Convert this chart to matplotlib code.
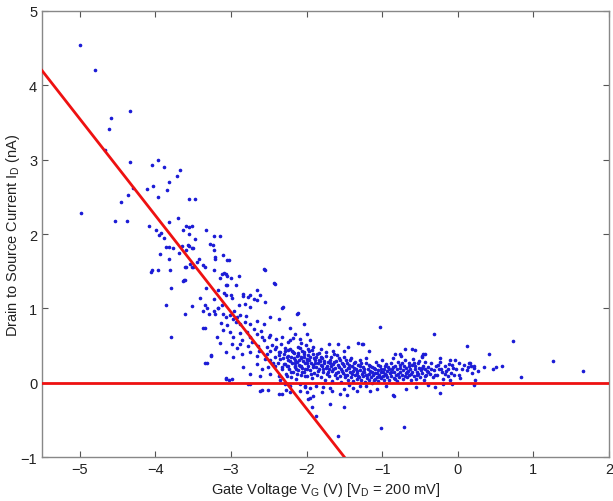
import numpy as np
import matplotlib
matplotlib.use("Agg")
import matplotlib.pyplot as plt

plt.rcParams['font.family'] = ['Liberation Sans', 'DejaVu Sans']

# measured points (gate voltage V, drain current nA), read off the scan
# sparse tail at high negative gate voltage
tail_pts = [
    (-5.00, 4.54), (-4.80, 4.20), (-4.34, 3.65), (-4.59, 3.56), (-4.61, 3.41),
    (-4.67, 3.13), (-4.34, 2.97), (-4.05, 2.93), (-3.97, 3.00), (-3.89, 2.90),
    (-3.68, 2.86), (-3.72, 2.78), (-3.82, 2.70), (-3.85, 2.59), (-4.03, 2.64),
    (-4.11, 2.61), (-3.96, 2.50), (-4.29, 2.62), (-4.36, 2.52), (-4.46, 2.43),
    (-3.55, 2.47), (-3.48, 2.47), (-4.99, 2.28), (-4.53, 2.17), (-4.38, 2.18),
    (-4.09, 2.11), (-3.99, 2.05), (-3.95, 1.99), (-3.92, 2.01), (-3.88, 1.94),
    (-3.82, 2.16), (-3.70, 2.21), (-3.64, 2.06), (-3.60, 2.11), (-3.55, 2.10),
    (-3.51, 2.11), (-3.56, 2.00), (-3.48, 1.93), (-3.86, 1.83), (-3.82, 1.82),
    (-3.77, 1.81), (-3.65, 1.84), (-3.59, 1.79), (-3.55, 1.84), (-3.52, 1.81),
    (-3.94, 1.73), (-3.82, 1.66), (-3.69, 1.75), (-3.60, 1.55), (-3.54, 1.59),
    (-3.50, 1.55), (-4.05, 1.51), (-4.06, 1.49), (-3.97, 1.52), (-3.81, 1.52),
    (-3.79, 1.28), (-3.63, 1.37), (-3.61, 1.38), (-3.86, 1.05), (-3.61, 0.93),
    (-3.80, 0.61),
]

# slope region between -3.5 V and -2.3 V
slope_pts = [
    (-3.33, 2.06), (-3.23, 1.97), (-3.15, 1.97), (-3.28, 1.86), (-3.24, 1.85),
    (-3.57, 1.85), (-3.50, 1.81), (-3.23, 1.79), (-3.21, 1.69), (-3.10, 1.72),
    (-3.21, 1.66), (-3.05, 1.65), (-3.03, 1.65), (-3.42, 1.66), (-3.45, 1.63),
    (-3.61, 1.55), (-3.52, 1.55), (-3.37, 1.58), (-3.34, 1.55), (-3.22, 1.51),
    (-3.12, 1.46), (-3.09, 1.47), (-3.07, 1.46), (-3.05, 1.44), (-3.00, 1.41),
    (-2.90, 1.43), (-3.14, 1.41), (-3.07, 1.32), (-3.05, 1.32), (-3.62, 1.38),
    (-3.33, 1.27), (-3.17, 1.25), (-3.09, 1.20), (-3.00, 1.18), (-2.93, 1.32),
    (-2.84, 1.16), (-2.75, 1.18), (-2.65, 1.25), (-2.55, 1.52), (-2.42, 1.33),
    (-3.41, 1.14), (-3.52, 1.03), (-3.34, 1.05), (-3.23, 1.12), (-3.17, 1.01),
    (-2.81, 1.06), (-2.75, 1.02), (-2.65, 1.11), (-2.55, 1.08), (-2.31, 1.02),
    (-3.32, 1.00), (-3.37, 0.96), (-3.29, 0.93), (-3.23, 0.97), (-3.21, 0.92),
    (-3.17, 1.00), (-3.12, 1.04), (-3.06, 1.18), (-2.99, 1.14), (-2.84, 1.19),
    (-2.77, 1.15), (-2.70, 1.12), (-2.62, 1.18), (-3.10, 0.93), (-3.06, 0.89),
    (-3.01, 0.91), (-2.98, 0.86), (-2.92, 0.89), (-2.88, 0.91), (-2.93, 0.81),
    (-2.88, 0.79), (-2.81, 0.81), (-2.75, 0.79), (-2.66, 0.83), (-2.57, 0.79),
    (-2.48, 0.89), (-2.37, 0.86), (-2.13, 0.93), (-3.34, 0.73), (-3.10, 0.71),
    (-3.01, 0.68), (-2.88, 0.67), (-2.79, 0.68), (-2.75, 0.61), (-2.66, 0.66),
    (-2.59, 0.61), (-2.48, 0.64), (-2.40, 0.59), (-2.33, 0.61), (-2.22, 0.57),
    (-2.09, 0.59), (-3.15, 0.54), (-2.99, 0.52), (-2.88, 0.52), (-2.77, 0.50),
    (-2.64, 0.50), (-2.53, 0.48), (-2.48, 0.43), (-2.42, 0.45), (-2.35, 0.41),
    (-2.29, 0.43), (-2.22, 0.45), (-2.18, 0.41), (-2.11, 0.48), (-2.04, 0.41),
    (-1.98, 0.45), (-2.13, 0.36), (-2.07, 0.34), (-2.00, 0.32), (-2.26, 0.34),
    (-2.35, 0.32), (-2.42, 0.34), (-2.48, 0.30), (-2.55, 0.32), (-2.66, 0.36),
    (-2.75, 0.41), (-2.86, 0.39), (-2.97, 0.34), (-3.06, 0.41), (-3.26, 0.36),
    (-3.32, 0.27), (-2.84, 0.21), (-2.66, 0.25), (-2.59, 0.18), (-2.51, 0.21),
    (-2.42, 0.23), (-2.33, 0.21), (-2.24, 0.23), (-2.15, 0.21), (-2.07, 0.23),
    (-2.00, 0.18), (-2.75, 0.12), (-2.62, 0.09), (-2.48, 0.12), (-2.37, 0.09),
    (-2.26, 0.09), (-2.13, 0.12), (-2.02, 0.09), (-3.06, 0.06), (-2.99, 0.05),
    (-2.75, -0.02), (-2.35, 0.03), (-2.29, -0.02), (-2.22, -0.04), (-2.09, -0.02),
    (-2.02, -0.06), (-2.59, -0.10), (-2.51, -0.10), (-2.33, -0.15), (-2.22, -0.13),
    (-2.09, -0.11), (-3.37, 0.73), (-3.26, 0.37), (-3.34, 0.27), (-3.07, 0.05),
    (-3.02, 0.03), (-2.78, -0.02), (-2.61, -0.11), (-2.32, 1.00), (-2.25, 0.55),
    (-2.18, 0.60), (-2.08, 0.53), (-2.15, 0.66), (-2.22, 0.73), (-2.11, 0.94),
    (-2.03, 0.79), (-1.99, 0.66), (-1.96, 0.57), (-1.91, 0.48), (-1.81, 0.45),
    (-1.71, 0.52), (-1.58, 0.52), (-1.65, 0.43), (-1.51, 0.43), (-1.45, 0.48),
    (-1.32, 0.53), (-1.27, 0.52), (-1.25, 0.52), (-1.18, 0.43), (-2.43, 1.34),
    (-2.56, 1.53), (-3.05, 0.78), (-2.97, 0.62), (-2.92, 0.47), (-2.85, 0.58),
    (-2.80, 0.90), (-2.72, 0.55), (-2.70, 0.72), (-2.63, 0.42), (-2.60, 0.70),
    (-2.56, 0.57), (-2.52, 0.38), (-2.50, 0.62), (-2.46, 0.51), (-2.44, 0.27),
    (-2.40, 0.48), (-2.37, 0.37), (-2.34, 0.52), (-2.30, 0.25), (-2.96, 0.97),
    (-2.90, 1.05), (-3.13, 0.80), (-3.18, 0.62),
]

# dense band just above zero current
band_pts = [
    (-2.30, 0.38), (-2.28, 0.25), (-2.27, 0.12), (-2.25, 0.30), (-2.24, 0.44),
    (-2.23, 0.19), (-2.21, 0.08), (-2.20, 0.35), (-2.19, 0.27), (-2.18, 0.15),
    (-2.17, 0.40), (-2.16, 0.22), (-2.15, 0.31), (-2.14, 0.05), (-2.13, 0.28),
    (-2.12, 0.37), (-2.11, 0.17), (-2.10, 0.24), (-2.09, 0.46), (-2.08, 0.11),
    (-2.07, 0.33), (-2.06, 0.20), (-2.05, 0.29), (-2.04, 0.38), (-2.03, 0.14),
    (-2.02, 0.26), (-2.01, 0.51), (-2.00, 0.09), (-1.99, 0.31), (-1.98, 0.22),
    (-1.97, 0.42), (-1.96, 0.17), (-1.95, 0.35), (-1.94, 0.27), (-1.93, 0.06),
    (-1.92, 0.24), (-1.91, 0.39), (-1.90, 0.13), (-1.89, 0.30), (-1.88, 0.21),
    (-1.87, 0.34), (-1.86, 0.10), (-1.85, 0.26), (-1.84, 0.18), (-1.83, 0.40),
    (-1.82, 0.29), (-1.81, 0.07), (-1.80, 0.23), (-1.79, 0.33), (-1.78, 0.15),
    (-1.77, 0.26), (-1.76, 0.04), (-1.75, 0.20), (-1.74, 0.36), (-1.73, 0.12),
    (-1.72, 0.28), (-1.71, 0.18), (-1.70, 0.09), (-1.69, 0.31), (-1.68, 0.22),
    (-1.67, 0.02), (-1.66, 0.16), (-1.65, 0.25), (-1.64, 0.38), (-1.63, 0.11),
    (-1.62, 0.20), (-1.61, 0.29), (-1.60, 0.06), (-1.59, 0.14), (-1.58, 0.24),
    (-1.57, 0.33), (-1.56, 0.09), (-1.55, 0.19), (-1.54, 0.01), (-1.53, 0.27),
    (-1.52, 0.13), (-1.51, 0.22), (-1.50, 0.35), (-1.49, 0.07), (-1.48, 0.17),
    (-1.47, 0.26), (-1.46, 0.11), (-1.45, 0.03), (-1.44, 0.20), (-1.43, 0.30),
    (-1.42, 0.14), (-1.41, 0.08), (-1.40, 0.23), (-1.39, 0.16), (-1.38, 0.02),
    (-1.37, 0.27), (-1.36, 0.10), (-1.35, 0.19), (-1.34, 0.05), (-1.33, 0.13),
    (-1.32, 0.24), (-1.31, 0.08), (-1.30, 0.17), (-1.29, 0.31), (-1.28, 0.04),
    (-1.27, 0.12), (-1.26, 0.21), (-1.25, 0.09), (-1.24, 0.15), (-1.23, 0.01),
    (-1.22, 0.26), (-1.21, 0.11), (-1.20, 0.06), (-1.19, 0.18), (-1.18, 0.03),
    (-1.17, 0.12), (-1.16, 0.23), (-1.15, 0.07), (-1.14, 0.15), (-1.13, 0.00),
    (-1.12, 0.10), (-1.11, 0.20), (-1.10, 0.05), (-1.09, 0.13), (-1.08, 0.28),
    (-1.07, 0.08), (-1.06, 0.17), (-1.05, 0.02), (-1.04, 0.11), (-1.03, 0.22),
    (-1.02, 0.06), (-1.01, 0.14), (-1.00, 0.31), (-0.99, 0.09), (-0.98, 0.19),
    (-0.97, 0.03), (-0.96, 0.12), (-0.95, 0.25), (-0.94, 0.07), (-0.93, 0.16),
    (-0.92, 0.21), (-0.91, 0.04), (-0.90, 0.13), (-0.89, 0.27), (-0.88, 0.09),
    (-0.87, 0.18), (-0.86, 0.33), (-0.85, 0.06), (-0.84, 0.15), (-0.83, 0.23),
    (-0.82, 0.11), (-0.81, 0.02), (-0.80, 0.19), (-0.79, 0.28), (-0.78, 0.08),
    (-0.77, 0.14), (-0.76, 0.24), (-0.75, 0.36), (-0.74, 0.10), (-0.73, 0.17),
    (-0.72, 0.05), (-0.71, 0.22), (-0.70, 0.30), (-0.69, 0.13), (-0.68, 0.20),
    (-0.67, 0.07), (-0.66, 0.16), (-0.65, 0.26), (-0.64, 0.11), (-0.63, 0.19),
    (-0.62, 0.03), (-0.61, 0.24), (-0.60, 0.14), (-0.59, 0.32), (-0.58, 0.09),
    (-0.57, 0.18), (-0.56, 0.22), (-0.55, 0.05), (-0.54, 0.15), (-0.53, 0.27),
    (-0.52, 0.12), (-0.51, 0.20), (-0.50, 0.08), (-0.49, 0.17), (-0.48, 0.35),
    (-0.47, 0.13), (-0.46, 0.23), (-0.45, 0.04), (-0.44, 0.19), (-0.43, 0.28),
    (-0.42, 0.10), (-0.41, 0.16), (-0.83, 0.39), (-0.76, 0.39), (-0.70, 0.45),
    (-0.61, 0.45), (-0.57, 0.44), (-0.46, 0.39), (-0.48, 0.36), (-0.43, 0.39),
]

# second pass over the densest part of the band (off-grid dots)
blob_pts = [
    (-2.38, 0.27), (-2.36, 0.41), (-2.33, 0.18), (-2.31, 0.33), (-2.29, 0.47),
    (-2.26, 0.22), (-2.245, 0.36), (-2.22, 0.29), (-2.205, 0.14), (-2.19, 0.43),
    (-2.165, 0.33), (-2.155, 0.26), (-2.135, 0.19), (-2.115, 0.40), (-2.095, 0.31),
    (-2.085, 0.23), (-2.065, 0.15), (-2.055, 0.42), (-2.035, 0.34), (-2.015, 0.19),
    (-1.995, 0.27), (-1.985, 0.37), (-1.965, 0.30), (-1.945, 0.12), (-1.935, 0.44),
    (-1.915, 0.21), (-1.905, 0.33), (-1.885, 0.26), (-1.865, 0.38), (-1.855, 0.16),
    (-1.835, 0.31), (-1.815, 0.24), (-1.805, 0.35), (-1.785, 0.19), (-1.765, 0.29),
    (-1.745, 0.41), (-1.735, 0.22), (-1.715, 0.14), (-1.695, 0.26), (-1.675, 0.34),
    (-1.655, 0.19), (-1.635, 0.28), (-1.615, 0.13), (-1.595, 0.37), (-1.575, 0.21),
    (-1.555, 0.30), (-1.535, 0.16), (-1.515, 0.25), (-1.495, 0.11), (-1.475, 0.31),
    (-1.455, 0.20), (-1.435, 0.24), (-1.415, 0.33), (-1.395, 0.12), (-1.375, 0.20),
    (-1.355, 0.28), (-1.335, 0.16), (-1.315, 0.09), (-1.295, 0.22), (-1.275, 0.27),
    (-1.255, 0.14), (-1.235, 0.19), (-1.215, 0.33), (-1.195, 0.10), (-1.175, 0.24),
    (-1.155, 0.16), (-1.135, 0.21), (-1.115, 0.04), (-1.095, 0.18), (-1.075, 0.13),
    (-1.055, 0.24), (-1.035, 0.07), (-1.015, 0.19), (-0.985, 0.15), (-0.965, 0.22),
    (-0.945, 0.10), (-0.915, 0.18), (-0.885, 0.14), (-0.855, 0.21), (-0.825, 0.05),
    (-0.795, 0.12), (-0.765, 0.20), (-0.735, 0.27), (-0.705, 0.09), (-0.675, 0.15),
    (-0.645, 0.22), (-0.615, 0.12), (-0.585, 0.26), (-0.545, 0.10), (-0.515, 0.29),
    (-0.475, 0.20), (-0.435, 0.09), (-0.395, 0.15), (-0.355, 0.19), (-0.305, 0.11),
    (-0.265, 0.24), (-0.225, 0.18), (-0.165, 0.12), (-0.125, 0.19), (-0.075, 0.24),
    (0.05, 0.19), (0.175, 0.22),
]

# flat region towards positive gate voltage
flat_pts = [
    (-0.39, 0.21), (-0.37, 0.12), (-0.35, 0.26), (-0.33, 0.07), (-0.31, 0.17),
    (-0.29, 0.23), (-0.27, 0.10), (-0.25, 0.19), (-0.23, 0.28), (-0.21, 0.14),
    (-0.19, 0.05), (-0.17, 0.22), (-0.15, 0.16), (-0.13, 0.09), (-0.11, 0.25),
    (-0.09, 0.13), (-0.07, 0.20), (-0.05, 0.11), (-0.02, 0.18), (0.02, 0.10),
    (0.08, 0.24), (0.12, 0.17), (0.16, 0.26), (0.19, 0.13), (0.22, 0.20),
    (-0.32, 0.65), (0.12, 0.49), (0.73, 0.56), (0.41, 0.38), (-0.24, 0.33),
    (-0.10, 0.31), (-0.04, 0.30), (0.01, 0.27), (0.15, 0.26), (0.14, 0.21),
    (0.21, 0.22), (0.27, 0.16), (0.34, 0.21), (0.47, 0.18), (0.51, 0.21),
    (0.58, 0.23), (0.83, 0.08), (0.23, 0.03), (-0.19, -0.02), (0.03, 0.06),
    (-0.10, 0.03), (1.26, 0.29), (1.65, 0.16), (-1.03, 0.75),
]

# points below zero current
neg_pts = [
    (-2.02, -0.05), (-1.95, -0.07), (-1.87, -0.04), (-1.78, -0.06), (-1.69, -0.07),
    (-1.51, -0.09), (-1.38, -0.07), (-1.21, -0.05), (-1.07, -0.09), (-2.00, -0.13),
    (-1.91, -0.18), (-1.80, -0.13), (-1.67, -0.11), (-1.56, -0.15), (-1.47, -0.16),
    (-1.34, -0.11), (-1.16, -0.11), (-0.85, -0.18), (-0.68, -0.09), (-1.98, -0.22),
    (-1.93, -0.33), (-1.87, -0.45), (-1.69, -0.29), (-1.51, -0.33), (-1.58, -0.72),
    (-1.02, -0.61), (-0.71, -0.60), (-0.24, -0.14), (-0.86, -0.17), (-1.96, -0.21),
    (-2.36, -0.15), (-2.27, -0.10), (-1.44, -0.03), (-1.29, -0.04), (-0.95, -0.05),
    (-0.55, -0.06), (-0.40, -0.03), (-0.30, -0.06), (-0.08, -0.02), (0.21, -0.03),
]

# linear fit through the subthreshold slope: threshold voltage and slope
vt_fit = -2.27
slope_fit = -1.3
fit_x = [-5.5, -1.5]

x_ticks = [-5, -4, -3, -2, -1, 0, 1, 2]
y_ticks = [-1, 0, 1, 2, 3, 4, 5]

pts = np.array(tail_pts + slope_pts + band_pts + blob_pts + flat_pts + neg_pts)

fig = plt.figure(figsize=(6.13, 5.02), dpi=100)
ax = fig.add_axes([0.0685, 0.0876, 0.9250, 0.8885])

fx = np.array(fit_x)
ax.plot(fx, slope_fit * (fx - vt_fit), color='#ee1111', lw=2.0, zorder=3)
ax.axhline(0, color='#ee1111', lw=2.0, zorder=3)
ax.plot(pts[:, 0], pts[:, 1], '.', color='#1c1cd6', ms=3.2, zorder=2)

ax.set_xlim(-5.5, 2)
ax.set_ylim(-1, 5)
ax.set_xticks(x_ticks)
ax.set_yticks(y_ticks)
ax.tick_params(direction='in', top=True, right=True, length=4, width=0.8,
               colors='#555555', labelcolor='#222222', labelsize=10.5)
for s in ax.spines.values():
    s.set_color('#888888')
    s.set_linewidth(1.0)

ax.set_xlabel(r'Gate Voltage V$\mathregular{_G}$ (V) [V$\mathregular{_D}$ = 200 mV]',
              fontsize=10.5, color='#222222', labelpad=3)
ax.set_ylabel(r'Drain to Source Current I$\mathregular{_D}$ (nA)',
              fontsize=10.5, color='#222222', labelpad=-1)

fig.savefig('out.png', dpi=100)
